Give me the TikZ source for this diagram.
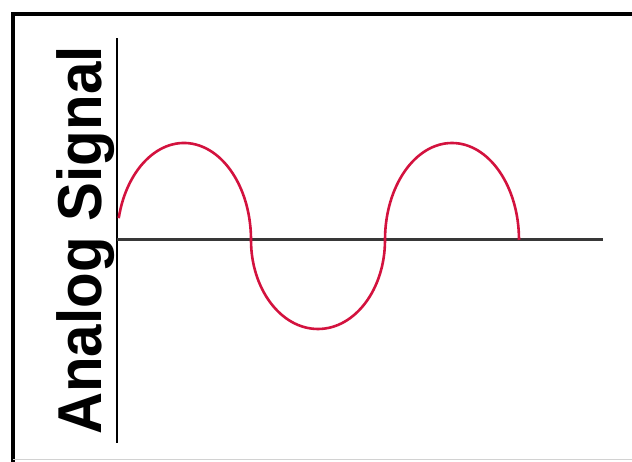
\documentclass[tikz,border=0pt]{standalone}
\usepackage{fontspec}
\newfontfamily\labelfont{Liberation Sans}
\definecolor{wavered}{HTML}{D3123E}
\definecolor{axisgray}{HTML}{383838}
\tikzset{
  frameline/.style={line width=3.5pt,black},
  axisline/.style={line width=3pt,axisgray},
  wave/.style={line width=2.6pt,wavered}
}
\begin{document}
\begin{tikzpicture}[x=1pt,y=1pt,every node/.style={inner sep=0pt}]
\useasboundingbox (0,0) rectangle (632,462);
% frame
\draw[frameline] (13,0)--(13,448)--(632,448);
\draw[gray!35,line width=1pt] (13,2)--(632,2);
% axes
\coordinate (orig) at (117,222);
\draw[black,line width=1.6pt] (117,19)--(117,424);
\draw[axisline] (orig)--(603,222);
% label
\node[rotate=90,anchor=base west] (ylabel) at (101,27)
  {\scalebox{0.94}[1]{\labelfont\bfseries\fontsize{62}{62}\selectfont Analog Signal}};
% signal
\coordinate (sigstart) at ({184+67*cos(167)},{222+97*sin(167)});
\draw[wave] (sigstart) arc[start angle=167,end angle=0,x radius=67,y radius=97]
  arc[start angle=180,end angle=360,x radius=67,y radius=89]
  arc[start angle=180,end angle=0,x radius=67,y radius=97];
\end{tikzpicture}
\end{document}
